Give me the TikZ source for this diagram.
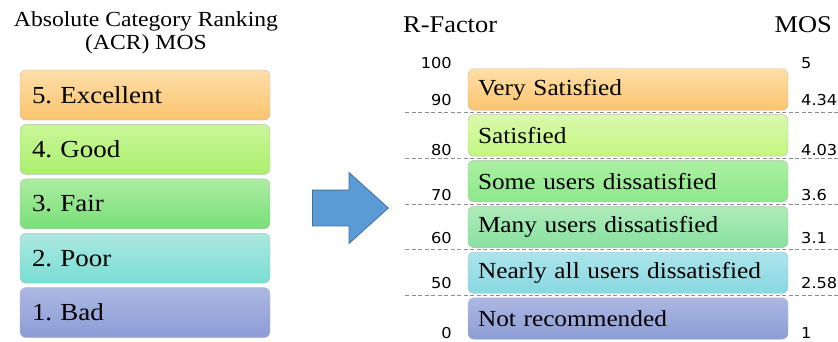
\documentclass[tikz,border=0pt]{standalone}
\usepackage{fontspec}
\setmainfont[FakeStretch=1.1]{Liberation Serif}
\newfontfamily\numfont[FakeStretch=1.08]{DejaVu Sans}
\usetikzlibrary{positioning, calc, shapes.arrows}
\frenchspacing

\begin{document}
\begin{tikzpicture}[
    x=1pt, y=-1pt,
    acrbox/.style={draw=gray!55, rounded corners=6pt, minimum height=50pt, inner xsep=12pt, text width=226pt, align=left, font=\fontsize{24.5}{27}\selectfont},
    rbox/.style={draw=gray!55, rounded corners=6pt, minimum height=41.5pt, inner xsep=10pt, text width=300pt, align=left, font=\fontsize{23}{25}\selectfont},
    rnum/.style={inner sep=0pt, font=\numfont\fontsize{15}{16}\selectfont},
    head/.style={inner sep=0pt, font=\fontsize{24}{26}\selectfont},
    sepline/.style={draw=gray!90, dashed, dash pattern=on 4pt off 2.5pt, line width=0.8pt},
    bigarrow/.style={single arrow, draw=arrowline, fill=arrowfill, line width=0.8pt, minimum height=76pt, minimum width=70pt, single arrow head extend=17.5pt, single arrow tip angle=84, inner sep=17.5pt}
]

    % Define colors
    \definecolor{exctop}{RGB}{255, 222, 168}
    \definecolor{excbot}{RGB}{250, 196, 110}
    \definecolor{goodtop}{RGB}{202, 246, 152}
    \definecolor{goodbot}{RGB}{170, 240, 110}
    \definecolor{fairtop}{RGB}{172, 236, 162}
    \definecolor{fairbot}{RGB}{120, 224, 120}
    \definecolor{poortop}{RGB}{172, 232, 224}
    \definecolor{poorbot}{RGB}{120, 222, 212}
    \definecolor{badtop}{RGB}{172, 184, 226}
    \definecolor{badbot}{RGB}{140, 156, 214}
    \definecolor{sattop}{RGB}{218, 250, 172}
    \definecolor{satbot}{RGB}{196, 246, 128}
    \definecolor{sometop}{RGB}{172, 240, 162}
    \definecolor{somebot}{RGB}{140, 232, 140}
    \definecolor{manytop}{RGB}{174, 236, 186}
    \definecolor{manybot}{RGB}{136, 224, 160}
    \definecolor{neartop}{RGB}{172, 228, 234}
    \definecolor{nearbot}{RGB}{136, 216, 226}
    \definecolor{arrowfill}{RGB}{91, 155, 213}
    \definecolor{arrowline}{RGB}{65, 113, 156}

    \useasboundingbox (0,0) rectangle (838,341);

    % ACR scale
    \node[head, align=center, font=\fontsize{21.5}{23.5}\selectfont] (acr) at (146,33) {Absolute Category Ranking\\(ACR) MOS};
    \foreach \i/\txt/\col in {5/5. Excellent/exc, 4/4. Good/good, 3/3. Fair/fair, 2/2. Poor/poor, 1/1. Bad/bad} {
        \ifnum\i=5
            \node[acrbox, top color=\col top, bottom color=\col bot] (a\i) at (145,95) {\txt};
        \else
            \pgfmathtruncatemacro{\prev}{\i+1}
            \node[acrbox, top color=\col top, bottom color=\col bot, below=4pt of a\prev] (a\i) {\txt};
        \fi
    }

    % Arrow between the scales
    \node[bigarrow, anchor=tip] (go) at (389,208) {};

    % R-Factor scale
    \node[head, anchor=base west] (rfac) at (403,32) {R-Factor};
    \node[head, anchor=base east] (mos) at (832,32) {MOS};
    \foreach \i/\txt/\col in {6/Very Satisfied/exc, 5/Satisfied/sat, 4/Some users dissatisfied/some, 3/Many users dissatisfied/many, 2/Nearly all users dissatisfied/near, 1/Not recommended/bad} {
        \ifnum\i=6
            \node[rbox, top color=\col top, bottom color=\col bot] (r\i) at (628,89.5) {\txt};
        \else
            \pgfmathtruncatemacro{\prev}{\i+1}
            \node[rbox, top color=\col top, bottom color=\col bot, below=3.9pt of r\prev] (r\i) {\txt};
            \coordinate (m\i) at ($(r\prev.south)!.5!(r\i.north)$);
        \fi
    }

    % Dashed separators
    \coordinate (dl) at (405,0);
    \coordinate (dr) at (838,0);
    \foreach \i in {5,...,1} {
        \draw[sepline] (m\i -| dl) -- (m\i -| dr);
    }

    % Scale values
    \foreach \rf/\ms/\yy in {100/5/63, 90/4.34/100, 80/4.03/150, 70/3.6/195, 60/3.1/238, 50/2.58/283, 0/1/333} {
        \node[rnum, anchor=east] (rf\rf) at (452,\yy) {\rf};
        \node[rnum, anchor=west] (ms\rf) at (801,\yy) {\ms};
    }

\end{tikzpicture}
\end{document}
